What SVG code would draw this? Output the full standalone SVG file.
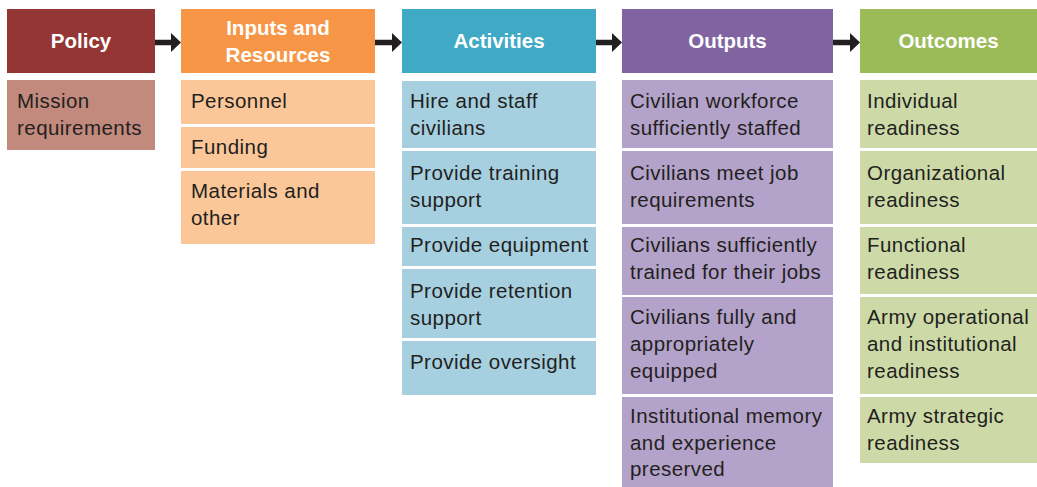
<svg xmlns="http://www.w3.org/2000/svg" width="1037" height="487" viewBox="0 0 1037 487">
  <style>
    .hdr { font-family: "Liberation Sans", Arial, sans-serif; font-weight: bold; font-size: 20.5px; fill: #ffffff; text-anchor: middle; }
    .txt { font-family: "Liberation Sans", Arial, sans-serif; font-size: 20.5px; letter-spacing: 0.45px; fill: #231f20; }
    .conn line { stroke: #231f20; stroke-width: 5.5; }
    .conn path { fill: #231f20; }
  </style>
  <rect width="1037" height="487" fill="#ffffff"/>

  <!-- Policy column -->
  <g id="policy">
    <rect x="7" y="9" width="148" height="64" fill="#943634"/>
    <text class="hdr" x="81" y="48">Policy</text>
  </g>
  <g id="policy-mission">
    <rect x="7" y="80" width="148" height="70" fill="#c28a7c"/>
    <text class="txt" x="17" y="108">Mission</text>
    <text class="txt" x="17" y="135">requirements</text>
  </g>

  <!-- Inputs and Resources column -->
  <g id="inputs">
    <rect x="181" y="9" width="194" height="64" fill="#f79646"/>
    <text class="hdr" x="278" y="35">Inputs and</text>
    <text class="hdr" x="278" y="62">Resources</text>
  </g>
  <g id="inputs-personnel">
    <rect x="181" y="80" width="194" height="44" fill="#fbc799"/>
    <text class="txt" x="191" y="108">Personnel</text>
  </g>
  <g id="inputs-funding">
    <rect x="181" y="127" width="194" height="41" fill="#fbc799"/>
    <text class="txt" x="191" y="154">Funding</text>
  </g>
  <g id="inputs-materials">
    <rect x="181" y="171" width="194" height="73" fill="#fbc799"/>
    <text class="txt" x="191" y="198">Materials and</text>
    <text class="txt" x="191" y="225">other</text>
  </g>

  <!-- Activities column -->
  <g id="activities">
    <rect x="402" y="9" width="194" height="64" fill="#3fa9c6"/>
    <text class="hdr" x="499" y="48">Activities</text>
  </g>
  <g id="act-hire">
    <rect x="402" y="81" width="194" height="67" fill="#a6cfe0"/>
    <text class="txt" x="410" y="108">Hire and staff</text>
    <text class="txt" x="410" y="135">civilians</text>
  </g>
  <g id="act-training">
    <rect x="402" y="151" width="194" height="73" fill="#a6cfe0"/>
    <text class="txt" x="410" y="180">Provide training</text>
    <text class="txt" x="410" y="207">support</text>
  </g>
  <g id="act-equipment">
    <rect x="402" y="227" width="194" height="39" fill="#a6cfe0"/>
    <text class="txt" x="410" y="252">Provide equipment</text>
  </g>
  <g id="act-retention">
    <rect x="402" y="269" width="194" height="69" fill="#a6cfe0"/>
    <text class="txt" x="410" y="298">Provide retention</text>
    <text class="txt" x="410" y="325">support</text>
  </g>
  <g id="act-oversight">
    <rect x="402" y="341" width="194" height="54" fill="#a6cfe0"/>
    <text class="txt" x="410" y="369">Provide oversight</text>
  </g>

  <!-- Outputs column -->
  <g id="outputs">
    <rect x="622" y="9" width="211" height="64" fill="#8064a2"/>
    <text class="hdr" x="727.5" y="48">Outputs</text>
  </g>
  <g id="out-staffed">
    <rect x="622" y="80" width="211" height="68" fill="#b3a2c9"/>
    <text class="txt" x="630" y="108">Civilian workforce</text>
    <text class="txt" x="630" y="135">sufficiently staffed</text>
  </g>
  <g id="out-requirements">
    <rect x="622" y="151" width="211" height="73" fill="#b3a2c9"/>
    <text class="txt" x="630" y="180">Civilians meet job</text>
    <text class="txt" x="630" y="207">requirements</text>
  </g>
  <g id="out-trained">
    <rect x="622" y="227" width="211" height="68" fill="#b3a2c9"/>
    <text class="txt" x="630" y="252">Civilians sufficiently</text>
    <text class="txt" x="630" y="279">trained for their jobs</text>
  </g>
  <g id="out-equipped">
    <rect x="622" y="297" width="211" height="97" fill="#b3a2c9"/>
    <text class="txt" x="630" y="324">Civilians fully and</text>
    <text class="txt" x="630" y="351">appropriately</text>
    <text class="txt" x="630" y="378">equipped</text>
  </g>
  <g id="out-memory">
    <rect x="622" y="397" width="211" height="90" fill="#b3a2c9"/>
    <text class="txt" x="630" y="423">Institutional memory</text>
    <text class="txt" x="630" y="450">and experience</text>
    <text class="txt" x="630" y="476">preserved</text>
  </g>

  <!-- Outcomes column -->
  <g id="outcomes">
    <rect x="860" y="9" width="177" height="64" fill="#9bbb59"/>
    <text class="hdr" x="948.5" y="48">Outcomes</text>
  </g>
  <g id="oc-individual">
    <rect x="860" y="80" width="177" height="68" fill="#cddaa7"/>
    <text class="txt" x="867" y="108">Individual</text>
    <text class="txt" x="867" y="135">readiness</text>
  </g>
  <g id="oc-organizational">
    <rect x="860" y="151" width="177" height="73" fill="#cddaa7"/>
    <text class="txt" x="867" y="180">Organizational</text>
    <text class="txt" x="867" y="207">readiness</text>
  </g>
  <g id="oc-functional">
    <rect x="860" y="227" width="177" height="67" fill="#cddaa7"/>
    <text class="txt" x="867" y="252">Functional</text>
    <text class="txt" x="867" y="279">readiness</text>
  </g>
  <g id="oc-operational">
    <rect x="860" y="297" width="177" height="97" fill="#cddaa7"/>
    <text class="txt" x="867" y="324">Army operational</text>
    <text class="txt" x="867" y="351">and institutional</text>
    <text class="txt" x="867" y="378">readiness</text>
  </g>
  <g id="oc-strategic">
    <rect x="860" y="397" width="177" height="66" fill="#cddaa7"/>
    <text class="txt" x="867" y="423">Army strategic</text>
    <text class="txt" x="867" y="450">readiness</text>
  </g>

  <!-- Connectors between column headers -->
  <g id="connectors" class="conn">
    <line x1="155" y1="42.5" x2="172" y2="42.5"/>
    <path d="M171,33 L181,42.5 L171,52 Z"/>
    <line x1="375" y1="42.5" x2="393" y2="42.5"/>
    <path d="M392,33 L402,42.5 L392,52 Z"/>
    <line x1="596" y1="42.5" x2="613" y2="42.5"/>
    <path d="M612,33 L622,42.5 L612,52 Z"/>
    <line x1="833" y1="42.5" x2="851" y2="42.5"/>
    <path d="M850,33 L860,42.5 L850,52 Z"/>
  </g>
</svg>
